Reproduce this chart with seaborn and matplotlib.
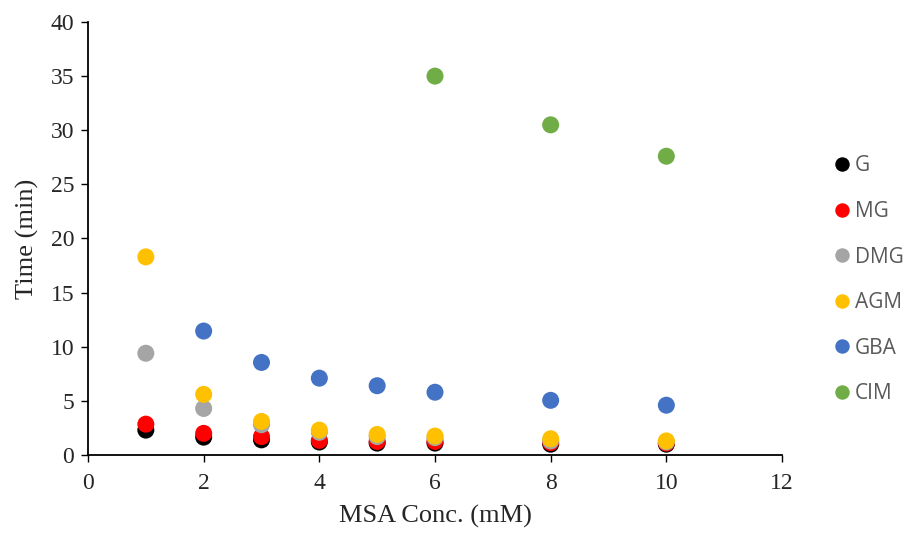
import matplotlib
matplotlib.use("Agg")
import matplotlib.pyplot as plt
import pandas as pd
import seaborn as sns

# retention times
conc = [1, 2, 3, 4, 5, 6, 8, 10]
g_time = [2.3, 1.65, 1.4, 1.2, 1.1, 1.1, 1.0, 1.0]
mg_time = [2.85, 2.0, 1.7, 1.35, 1.25, 1.25, 1.15, 1.1]
dmg_time = [9.4, 4.3, 2.8, 2.1, 1.7, 1.6, 1.3, 1.2]
agm_time = [18.3, 5.6, 3.1, 2.3, 1.9, 1.75, 1.5, 1.3]
gba_conc = [2, 3, 4, 5, 6, 8, 10]
gba_time = [11.45, 8.55, 7.1, 6.4, 5.8, 5.05, 4.6]
cim_conc = [6, 8, 10]
cim_time = [35.0, 30.5, 27.6]

names = ["G", "MG", "DMG", "AGM", "GBA", "CIM"]
colors = ["#000000", "#FF0000", "#A5A5A5", "#FFC000", "#4472C4", "#70AD47"]

frames = [
    pd.DataFrame({"conc": conc, "time": g_time, "compound": "G"}),
    pd.DataFrame({"conc": conc, "time": mg_time, "compound": "MG"}),
    pd.DataFrame({"conc": conc, "time": dmg_time, "compound": "DMG"}),
    pd.DataFrame({"conc": conc, "time": agm_time, "compound": "AGM"}),
    pd.DataFrame({"conc": gba_conc, "time": gba_time, "compound": "GBA"}),
    pd.DataFrame({"conc": cim_conc, "time": cim_time, "compound": "CIM"}),
]
df = pd.concat(frames, ignore_index=True)

sns.set_style("white")
plt.rcParams["font.family"] = ["Liberation Serif", "DejaVu Serif"]

fig = plt.figure(figsize=(9.06, 5.33), dpi=100)
ax = fig.add_axes([88 / 906, 1 - 455 / 533, (782 - 88) / 906, (455 - 22) / 533])

sns.scatterplot(data=df, x="conc", y="time", hue="compound", hue_order=names,
                palette=colors, s=150, linewidth=0, ax=ax, legend=True)

ax.set_xlim(0, 12)
ax.set_ylim(0, 40)
ax.set_xticks(range(0, 13, 2))
ax.set_yticks(range(0, 41, 5))
ax.tick_params(axis="both", labelsize=17, direction="out", length=5, width=1,
               color="black", bottom=True, left=True, pad=5)
ax.tick_params(axis="x", pad=8)
for side in ["top", "right"]:
    ax.spines[side].set_visible(False)
for side in ["left", "bottom"]:
    ax.spines[side].set_color("black")
    ax.spines[side].set_linewidth(1.3)
ax.set_xlabel("MSA Conc. (mM)", fontsize=19, labelpad=8)
ax.set_ylabel("Time (min)", fontsize=19, labelpad=8)

handles, labels = ax.get_legend_handles_labels()
leg = ax.legend(handles, labels, loc="center left", bbox_to_anchor=(810 / 906, 0.475),
                bbox_transform=fig.transFigure, frameon=False,
                labelspacing=1.18, handletextpad=0.0, handlelength=1.25,
                markerscale=0.85, prop={"family": "Open Sans", "size": 15})
for t in leg.get_texts():
    t.set_color("#595959")

fig.savefig("out.png", dpi=100)
